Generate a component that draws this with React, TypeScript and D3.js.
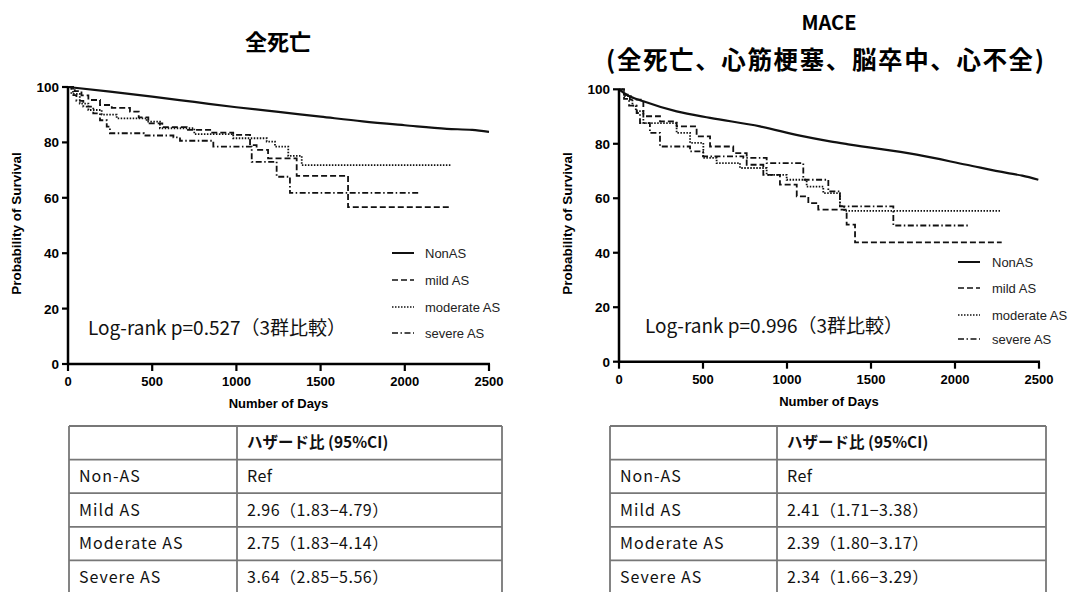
import React from 'react';
import * as d3 from 'd3';

type Pt = [number, number];

const xTicks = [0, 500, 1000, 1500, 2000, 2500];
const yTicks = [0, 20, 40, 60, 80, 100];
const groups = ['NonAS', 'mild AS', 'moderate AS', 'severe AS'];

// 全死亡 (all-cause death) – days, survival %
const deathNonAS: Pt[] = [[0, 100], [250, 98.3], [500, 96.5], [750, 94.6], [1000, 92.7], [1250, 91], [1500, 89.3], [1750, 87.6], [2000, 86.2], [2250, 84.9], [2400, 84.5], [2500, 83.8]];
const deathMild: Pt[] = [[0, 100], [40, 98.5], [80, 97], [121, 95.3], [190, 93.5], [260, 92.5], [368, 91.1], [420, 89], [477, 86.9], [560, 85.5], [705, 84.5], [850, 83.5], [981, 82.7], [1081, 79], [1120, 77.3], [1188, 74.2], [1358, 67.9], [1663, 56.6], [2265, 56.6]];
const deathModerate: Pt[] = [[0, 100], [30, 97.5], [70, 94], [121, 91.7], [200, 90], [289, 88.7], [467, 87.5], [546, 85.1], [750, 83], [981, 81.5], [1180, 80.3], [1229, 78.5], [1308, 75.1], [1388, 71.8], [2278, 71.8]];
const deathSevere: Pt[] = [[0, 100], [20, 97.1], [50, 95], [91, 92.9], [150, 90.5], [190, 88], [230, 85.7], [249, 83.3], [450, 82.5], [626, 81.8], [665, 80.6], [863, 78.5], [1091, 73], [1239, 67.6], [1318, 61.8], [2090, 61.8]];

// MACE
const maceNonAS: Pt[] = [[0, 100], [46, 98], [145, 95.6], [343, 91.9], [542, 89.5], [839, 86.4], [1077, 83], [1256, 80.9], [1375, 79.7], [1772, 76], [2069, 72.3], [2308, 69.3], [2400, 68.3], [2496, 66.8]];
const maceMild: Pt[] = [[0, 100], [30, 98], [65, 96.2], [145, 90.1], [244, 88.2], [343, 86.4], [462, 82.7], [542, 79], [680, 76.6], [760, 72.3], [859, 68.6], [958, 65], [1058, 60.7], [1127, 58.2], [1186, 55.8], [1355, 50.3], [1405, 43.8], [2278, 43.8]];
const maceModerate: Pt[] = [[0, 100], [30, 97.5], [80, 94], [100, 92], [145, 87.6], [343, 84], [423, 80.3], [502, 74.8], [581, 72.9], [720, 71.1], [879, 68.6], [998, 66.8], [1117, 64.3], [1216, 61.9], [1315, 57.1], [1340, 55.4], [2268, 55.4]];
const maceSevere: Pt[] = [[0, 100], [30, 96.5], [60, 94], [105, 91.3], [125, 87.6], [184, 84], [244, 79], [423, 77.2], [500, 75.4], [740, 74.8], [879, 72.9], [1097, 66.8], [1246, 62.5], [1315, 57], [1633, 50], [2089, 50]];

const rowLabels = ['Non-AS', 'Mild AS', 'Moderate AS', 'Severe AS'];
const deathHR = ['Ref', '2.96（1.83−4.79）', '2.75（1.83−4.14）', '3.64（2.85−5.56）'];
const maceHR = ['Ref', '2.41（1.71−3.38）', '2.39（1.80−3.17）', '2.34（1.66−3.29）'];

const dashes = [null, '6,3', '1.5,1.5', '6,2.5,1.5,2.5'];
const latin = '"Liberation Sans", Arial, sans-serif';
const jp = '"Noto Sans CJK JP", sans-serif';

interface PanelProps {
  series: Pt[][];
  xr: [number, number];
  yr: [number, number];
  titles: { text: string; y: number; size: number; x: number; len?: number }[];
  pText: string;
  pX: number;
  legend: { lx: number; tx: number; ys: number[] };
  table: { left: number; split: number; right: number; top: number; values: string[] };
  yLabelX: number;
}

function Panel({ series, xr, yr, titles, pText, pX, legend, table, yLabelX }: PanelProps) {
  const x = d3.scaleLinear().domain([0, 2500]).range(xr);
  const y = d3.scaleLinear().domain([0, 100]).range(yr);
  const step = d3.line<Pt>().x(d => x(d[0])).y(d => y(d[1])).curve(d3.curveStepAfter);
  const smooth = d3.line<Pt>().x(d => x(d[0])).y(d => y(d[1])).curve(d3.curveMonotoneX);
  const rowH = 33.6;
  const rows = ['', ...rowLabels];
  const vals = ['ハザード比 (95%CI)', ...table.values];

  return (
    <g>
      {titles.map((t, i) => (
        <text key={i} x={t.x} y={t.y} textAnchor="middle" fontFamily={jp} fontWeight="bold" fontSize={t.size}
          textLength={t.len} lengthAdjust={t.len ? 'spacing' : undefined}>{t.text}</text>
      ))}
      {series.map((s, i) => (
        <path key={i} d={(i === 0 ? smooth(s) : step(s)) || ''} fill="none" stroke="#111"
          strokeWidth={i === 0 ? 2.2 : 1.8} strokeDasharray={dashes[i] || undefined} />
      ))}
      {/* axes */}
      <line x1={x(0)} x2={x(0)} y1={y(0) + 1} y2={y(100)} stroke="#000" strokeWidth={2.5} />
      <line x1={x(0) - 1} x2={x(2500) + 1} y1={y(0)} y2={y(0)} stroke="#000" strokeWidth={2.5} />
      {yTicks.map(t => (
        <g key={t}>
          <line x1={x(0) - 6} x2={x(0)} y1={y(t)} y2={y(t)} stroke="#000" strokeWidth={2.2} />
          <text x={x(0) - 9} y={y(t) + 5} textAnchor="end" fontFamily={latin} fontWeight="bold" fontSize={13.5}>{t}</text>
        </g>
      ))}
      {xTicks.map(t => (
        <g key={t}>
          <line x1={x(t)} x2={x(t)} y1={y(0)} y2={y(0) + 7} stroke="#000" strokeWidth={2.2} />
          <text x={x(t)} y={y(0) + 22} textAnchor="middle" fontFamily={latin} fontWeight="bold" fontSize={13}>{t}</text>
        </g>
      ))}
      <text x={(xr[0] + xr[1]) / 2} y={y(0) + 44} textAnchor="middle" fontFamily={latin} fontWeight="bold" fontSize={13}>Number of Days</text>
      <text transform={`translate(${yLabelX},${(yr[0] + yr[1]) / 2 - 2}) rotate(-90)`} textAnchor="middle" fontFamily={latin} fontWeight="bold" fontSize={13.5}>Probability of Survival</text>
      {/* legend */}
      {groups.map((g, i) => (
        <g key={g}>
          <line x1={legend.lx} x2={legend.lx + 22} y1={legend.ys[i]} y2={legend.ys[i]} stroke="#111"
            strokeWidth={i === 0 ? 2 : 1.6} strokeDasharray={dashes[i] || undefined} />
          <text x={legend.tx} y={legend.ys[i] + 4.5} fontFamily={latin} fontSize={13} fill="#222">{g}</text>
        </g>
      ))}
      <text x={pX} y={y(0) - 29} fontFamily={jp} fontSize={19} fill="#111">{pText}</text>
      {/* hazard ratio table */}
      {rows.map((r, i) => {
        const top = table.top + i * rowH;
        return (
          <g key={i}>
            <text x={table.left + 10} y={top + rowH / 2 + 5.5} fontFamily={jp} fontSize={16} letterSpacing={1} fill="#111">{r}</text>
            <text x={table.split + 10} y={top + rowH / 2 + 5.5} fontFamily={jp} fontSize={i === 0 ? 15.5 : 16}
              letterSpacing={i === 0 ? 0 : 0.5} fontWeight={i === 0 ? 'bold' : 'normal'} fill="#111">{vals[i]}</text>
          </g>
        );
      })}
      {d3.range(rows.length + 1).map(i => (
        <line key={i} x1={table.left} x2={table.right} y1={table.top + i * rowH} y2={table.top + i * rowH} stroke="#777" strokeWidth={1.8} />
      ))}
      {[table.left, table.split, table.right].map((lx, i) => (
        <line key={i} x1={lx} x2={lx} y1={table.top} y2={table.top + rows.length * rowH} stroke="#777" strokeWidth={1.8} />
      ))}
    </g>
  );
}

export default function App() {
  return (
    <svg width={1082} height={592} style={{ position: 'absolute', left: 0, top: 0, background: '#fff' }}>
      <rect width={1082} height={592} fill="#fff" />
      <Panel
        series={[deathNonAS, deathMild, deathModerate, deathSevere]}
        xr={[68, 489]} yr={[364, 87]}
        titles={[{ text: '全死亡', x: 278, y: 50, size: 22 }]}
        pText="Log-rank p=0.527（3群比較）" pX={88}
        legend={{ lx: 392, tx: 425, ys: [253, 280, 307, 333] }}
        table={{ left: 69, split: 237, right: 502, top: 426, values: deathHR }}
        yLabelX={21}
      />
      <Panel
        series={[maceNonAS, maceMild, maceModerate, maceSevere]}
        xr={[619, 1039]} yr={[361.7, 89.3]}
        titles={[{ text: 'MACE', x: 829, y: 30, size: 20 }, { text: '(全死亡、心筋梗塞、脳卒中、心不全)', x: 825, y: 69, size: 24.5, len: 438 }]}
        pText="Log-rank p=0.996（3群比較）" pX={645}
        legend={{ lx: 958, tx: 992, ys: [262, 288, 315, 339] }}
        table={{ left: 610, split: 777, right: 1046, top: 426, values: maceHR }}
        yLabelX={572}
      />
    </svg>
  );
}
